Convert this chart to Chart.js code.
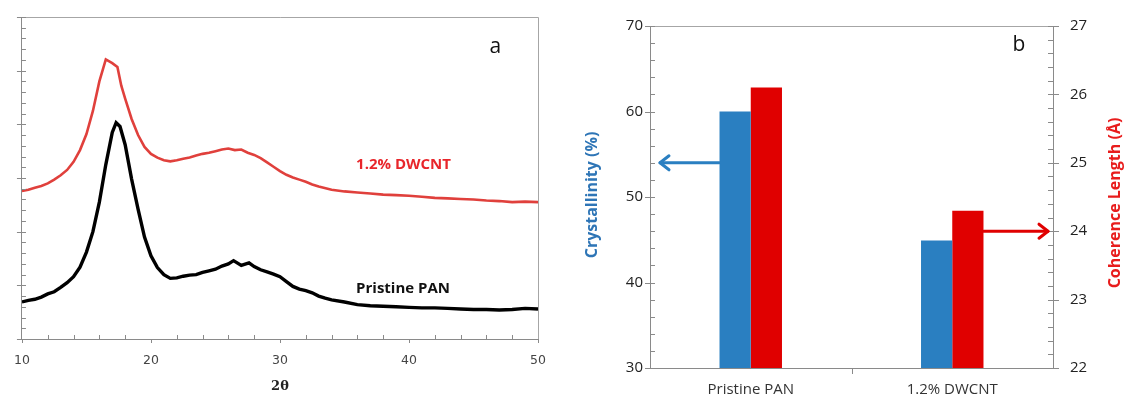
<!DOCTYPE html>
<html><head><meta charset="utf-8">
<script src="https://cdn.jsdelivr.net/npm/chart.js@4.4.1/dist/chart.umd.min.js"></script>
<style>
html,body{margin:0;padding:0;background:#fff;}
#wrap{position:relative;width:1125px;height:404px;overflow:hidden;background:#fff;}
#pa{position:absolute;left:0;top:0;width:560px;height:404px;}
#pb{position:absolute;left:560px;top:0;width:565px;height:404px;}
</style></head><body>
<div id="wrap"><div id="pa"><canvas id="ca"></canvas></div><div id="pb"><canvas id="cb"></canvas></div></div>
<script>
// ---------- Panel a: XRD patterns (intensity, arbitrary units) ----------
const pristineX = [10,10.5,11,11.5,12,12.5,13,13.5,14,14.5,15,15.5,16,16.5,17,17.3,17.6,18,18.5,19,19.5,20,20.5,21,21.5,22,22.5,23,23.5,24,24.5,25,25.5,26,26.4,27,27.6,28,28.5,29,29.5,30,30.5,31,31.5,32,32.5,33,33.5,34,35,36,37,38,39,40,41,42,43,44,45,46,47,48,49,50];
const pristineY = [0.69,0.72,0.74,0.78,0.84,0.88,0.96,1.05,1.16,1.34,1.62,2.00,2.55,3.25,3.85,4.03,3.96,3.62,2.98,2.42,1.90,1.55,1.33,1.20,1.13,1.14,1.17,1.19,1.20,1.24,1.27,1.30,1.36,1.40,1.46,1.37,1.42,1.35,1.29,1.25,1.21,1.16,1.07,0.98,0.93,0.90,0.86,0.80,0.76,0.73,0.69,0.64,0.62,0.61,0.60,0.59,0.58,0.58,0.57,0.56,0.55,0.55,0.54,0.55,0.57,0.56];
const dwcntX = [10,10.5,11,11.5,12,12.5,13,13.5,14,14.5,15,15.5,16,16.5,17,17.4,17.7,18,18.5,19,19.5,20,20.5,21,21.5,22,22.5,23,23.5,24,24.5,25,25.5,26,26.5,27,27.5,28,28.5,29,29.5,30,30.5,31,31.5,32,32.5,33,34,35,36,37,38,39,40,41,42,43,44,45,46,47,48,49,50];
const dwcntY = [2.76,2.78,2.82,2.85,2.90,2.97,3.05,3.15,3.30,3.52,3.82,4.25,4.80,5.21,5.14,5.07,4.72,4.48,4.10,3.80,3.58,3.45,3.38,3.33,3.31,3.33,3.36,3.38,3.42,3.45,3.47,3.50,3.53,3.55,3.52,3.53,3.47,3.43,3.37,3.29,3.21,3.13,3.06,3.01,2.97,2.93,2.88,2.84,2.78,2.75,2.73,2.71,2.69,2.68,2.67,2.65,2.63,2.62,2.61,2.60,2.58,2.57,2.55,2.56,2.55];
const xTickLabels = [10,20,30,40,50];

// ---------- Panel b: crystallinity and coherence length ----------
const categories = ['Pristine PAN','1.2% DWCNT'];
const crystallinity = [60, 44.9];      // %
const coherenceLength = [26.1, 24.3];  // Å
const crystTicks = [30,40,50,60,70];
const cohTicks = [22,23,24,25,26,27];

const AXIS = '#8a8a8a';
Chart.defaults.font.family = '"Open Sans", "DejaVu Sans", sans-serif';
Chart.defaults.animation = false;

function range(a, b, step){ const r=[]; for(let v=a; v<=b+1e-9; v+=step) r.push(+v.toFixed(4)); return r; }

function tickMarks(chart, id, values, inner, outer){
  const s = chart.scales[id], ctx = chart.ctx, ca = chart.chartArea;
  ctx.save(); ctx.strokeStyle = AXIS; ctx.lineWidth = 1; ctx.beginPath();
  values.forEach(v => {
    const p = Math.round(s.getPixelForValue(v)) + 0.5;
    if (s.isHorizontal()) { ctx.moveTo(p, ca.bottom - inner); ctx.lineTo(p, ca.bottom + outer); }
    else if (s.position === 'left') { ctx.moveTo(ca.left - outer, p); ctx.lineTo(ca.left + inner, p); }
    else { ctx.moveTo(ca.right + outer, p); ctx.lineTo(ca.right - inner, p); }
  });
  ctx.stroke(); ctx.restore();
}

// ---------- Chart a ----------
const plugA = {
  id: 'plugA',
  afterDraw(chart){
    const ctx = chart.ctx, ca = chart.chartArea, x = chart.scales.x, y = chart.scales.y;
    ctx.save(); ctx.strokeStyle = '#a6a6a6'; ctx.lineWidth = 1;
    ctx.beginPath();
    ctx.moveTo(ca.left, Math.round(ca.top)+0.5); ctx.lineTo(Math.round(ca.right)+0.5, Math.round(ca.top)+0.5);
    ctx.lineTo(Math.round(ca.right)+0.5, ca.bottom);
    ctx.stroke(); ctx.restore();
    tickMarks(chart, 'x', range(10,50,2).filter(v => v % 10 !== 0), 4, 0);
    tickMarks(chart, 'x', xTickLabels, 0, 4);
    tickMarks(chart, 'y', range(0,6,0.2), 4, 0);
    tickMarks(chart, 'y', range(0,6,1), 4, 5);
    ctx.save();
    ctx.textBaseline = 'middle'; ctx.textAlign = 'left';
    ctx.font = 'bold 15px "Open Sans"';
    ctx.fillStyle = '#e8262b';
    ctx.fillText('1.2% DWCNT', x.getPixelForValue(35.9), y.getPixelForValue(3.24));
    ctx.fillStyle = '#111';
    ctx.fillText('Pristine PAN', x.getPixelForValue(35.9), y.getPixelForValue(0.93));
    ctx.font = '21px "Open Sans"'; ctx.textAlign = 'center';
    ctx.fillText('a', x.getPixelForValue(46.7), y.getPixelForValue(5.45));
    ctx.restore();
  }
};

new Chart(document.getElementById('ca'), {
  type: 'line',
  data: {
    datasets: [
      { label: '1.2% DWCNT', data: dwcntX.map((v,i)=>({x:v, y:dwcntY[i]})), borderColor: '#e0403c', borderWidth: 2.6, pointRadius: 0, tension: 0 },
      { label: 'Pristine PAN', data: pristineX.map((v,i)=>({x:v, y:pristineY[i]})), borderColor: '#000', borderWidth: 3.4, pointRadius: 0, tension: 0 }
    ]
  },
  options: {
    responsive: true, maintainAspectRatio: false,
    layout: { padding: { left: 0, top: 17, right: 22, bottom: 0 } },
    plugins: { legend: { display: false }, tooltip: { enabled: false } },
    scales: {
      x: {
        type: 'linear', min: 10, max: 50,
        afterBuildTicks(s){ s.ticks = xTickLabels.map(v => ({value: v})); },
        ticks: { padding: 14, color: '#444', font: { family: '"DejaVu Sans"', size: 12.5 } },
        grid: { display: true, drawOnChartArea: false, drawTicks: false },
        border: { color: AXIS, width: 1 },
        title: { display: true, text: '2θ', color: '#222', font: { family: '"DejaVu Serif"', size: 13, weight: 'bold' }, padding: { top: 0, bottom: 10 } },
        afterFit(s){ s.height = 65; }
      },
      y: {
        min: 0, max: 6,
        ticks: { display: false },
        grid: { display: true, drawOnChartArea: false, drawTicks: false },
        border: { color: AXIS, width: 1 },
        afterFit(s){ s.width = 18; }
      }
    }
  },
  plugins: [plugA]
});

// ---------- Chart b ----------
function arrow(ctx, x1, x2, y, color){
  ctx.save(); ctx.strokeStyle = color; ctx.lineWidth = 3; ctx.lineCap = 'round'; ctx.lineJoin = 'round';
  ctx.beginPath(); ctx.moveTo(x1, y); ctx.lineTo(x2, y); ctx.stroke();
  const d = x2 > x1 ? -1 : 1;
  ctx.beginPath(); ctx.moveTo(x2 + d*9, y - 7); ctx.lineTo(x2, y); ctx.lineTo(x2 + d*9, y + 7); ctx.stroke();
  ctx.restore();
}
const plugB = {
  id: 'plugB',
  afterDraw(chart){
    const ctx = chart.ctx, ca = chart.chartArea;
    ctx.save(); ctx.strokeStyle = '#a6a6a6'; ctx.lineWidth = 1;
    ctx.beginPath(); ctx.moveTo(ca.left, Math.round(ca.top)+0.5); ctx.lineTo(ca.right, Math.round(ca.top)+0.5); ctx.stroke();
    ctx.restore();
    tickMarks(chart, 'y', range(30,70,2), 5, 0);
    tickMarks(chart, 'y', crystTicks, 5, 5);
    tickMarks(chart, 'y1', range(22,27,0.2), 5, 0);
    tickMarks(chart, 'y1', cohTicks, 5, 6);
    tickMarks(chart, 'x', [0.5], 0, 6);
    const b0 = chart.getDatasetMeta(0).data[0];
    const r1 = chart.getDatasetMeta(1).data[1];
    arrow(ctx, b0.x - b0.width/2, ca.left + 10, chart.scales.y.getPixelForValue(54), '#2a7fc1');
    arrow(ctx, r1.x + r1.width/2, ca.right - 5, chart.scales.y1.getPixelForValue(24), '#e00000');
    ctx.save(); ctx.font = 'bold 16px "Open Sans"'; ctx.textAlign = 'center'; ctx.textBaseline = 'middle';
    ctx.translate(32, 195); ctx.rotate(-Math.PI/2); ctx.fillStyle = '#2e75b6'; ctx.fillText('Crystallinity (%)', 0, 0);
    ctx.restore();
    ctx.save(); ctx.font = 'bold 16px "Open Sans"'; ctx.textAlign = 'center'; ctx.textBaseline = 'middle';
    ctx.translate(555, 203); ctx.rotate(-Math.PI/2); ctx.fillStyle = '#e81c1c'; ctx.fillText('Coherence Length (Å)', 0, 0);
    ctx.restore();
    ctx.save(); ctx.font = '21px "Open Sans"'; ctx.textAlign = 'center'; ctx.textBaseline = 'middle'; ctx.fillStyle = '#111';
    ctx.fillText('b', ca.right - 34, 45); ctx.restore();
  }
};

new Chart(document.getElementById('cb'), {
  type: 'bar',
  data: {
    labels: categories,
    datasets: [
      { label: 'Crystallinity (%)', data: crystallinity, backgroundColor: '#2a7fc1', yAxisID: 'y', categoryPercentage: 0.31, barPercentage: 1 },
      { label: 'Coherence Length (Å)', data: coherenceLength, backgroundColor: '#e00000', yAxisID: 'y1', categoryPercentage: 0.31, barPercentage: 1 }
    ]
  },
  options: {
    responsive: true, maintainAspectRatio: false,
    layout: { padding: { left: 0, top: 18, right: 0, bottom: 0 } },
    plugins: { legend: { display: false }, tooltip: { enabled: false } },
    scales: {
      x: {
        ticks: { padding: 13, color: '#333', font: { size: 15 } },
        grid: { display: true, offset: true, drawOnChartArea: false, drawTicks: false },
        border: { color: AXIS, width: 1 },
        afterFit(s){ s.height = 36; }
      },
      y: {
        position: 'left', min: 30, max: 70,
        afterBuildTicks(s){ s.ticks = crystTicks.map(v => ({value: v})); },
        ticks: { padding: 7, color: '#222', font: { size: 15 } },
        grid: { display: true, drawOnChartArea: false, drawTicks: false },
        border: { color: AXIS, width: 1 },
        afterFit(s){ s.width = 90; }
      },
      y1: {
        position: 'right', min: 22, max: 27,
        afterBuildTicks(s){ s.ticks = cohTicks.map(v => ({value: v})); },
        ticks: { padding: 17, color: '#222', font: { size: 15 } },
        grid: { display: true, drawOnChartArea: false, drawTicks: false },
        border: { color: AXIS, width: 1 },
        afterFit(s){ s.width = 72; }
      }
    }
  },
  plugins: [plugB]
});
</script>
</body></html>
